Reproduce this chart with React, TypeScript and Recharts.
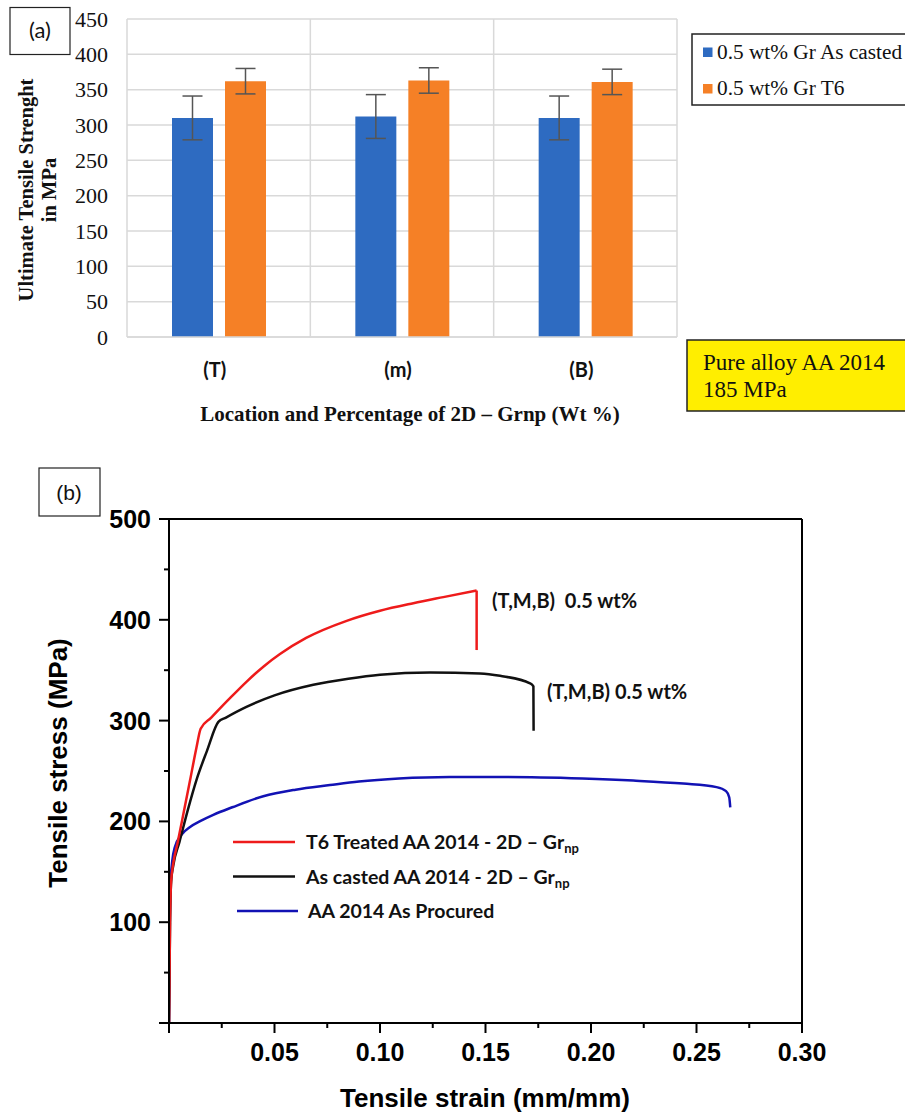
import React from 'react';
import {
  BarChart, Bar, ErrorBar, XAxis, YAxis, CartesianGrid,
  LineChart, Line, ReferenceLine,
} from 'recharts';

// ---------- (a) bar chart data ----------
const categories = ['(T)', '(m)', '(B)'];
const asCastedValues = [310, 312, 310];
const asCastedErrors = [31, 31, 31];
const t6Values = [362, 363, 361];
const t6Errors = [18, 18, 18];
const barYTicks = [0, 50, 100, 150, 200, 250, 300, 350, 400, 450];
const barSeriesNames = ['0.5 wt% Gr As casted', '0.5 wt% Gr T6'];
const barColors = ['#2E6BC1', '#F58026'];

// ---------- (b) stress-strain data ----------
const t6Strain = [0, 0.0005, 0.001, 0.002, 0.004, 0.0066, 0.01, 0.013, 0.015, 0.02, 0.029, 0.0367, 0.045, 0.0526, 0.065, 0.0842, 0.1, 0.1158, 0.13, 0.1458];
const t6Stress = [0, 100, 140, 158, 178, 205, 241, 273, 292, 303, 322.5, 338.5, 354, 366, 382, 399, 409, 416.5, 422.5, 429];
const t6FractureStrain = [0.1458, 0.1458];
const t6FractureStress = [429, 370];
const castStrain = [0, 0.0005, 0.001, 0.002, 0.005, 0.009, 0.013, 0.018, 0.0234, 0.027, 0.0367, 0.05, 0.0684, 0.085, 0.1, 0.1237, 0.1474, 0.1569, 0.1711, 0.1727, 0.1728];
const castStress = [0, 100, 140, 156, 180, 212, 241, 270, 298.7, 303, 313.6, 325, 335.5, 341.5, 345.5, 347.8, 346.8, 344.4, 337, 334, 290];
const procStrain = [0, 0.0003, 0.0005, 0.0015, 0.0028, 0.006, 0.01, 0.015, 0.021, 0.03, 0.0447, 0.06, 0.0763, 0.09, 0.109, 0.133, 0.16, 0.196, 0.22, 0.2437, 0.2595, 0.264, 0.2655, 0.266];
const procStress = [0, 80, 131.6, 160, 174.6, 187, 194.5, 200.5, 206.5, 214, 225, 231.5, 236, 239.5, 242.5, 244, 244, 242.5, 240.5, 237.5, 234, 230, 224, 214];
const lineXTicks = [0, 0.025, 0.05, 0.075, 0.1, 0.125, 0.15, 0.175, 0.2, 0.225, 0.25, 0.275, 0.3];
const lineYTicks = [0, 50, 100, 150, 200, 250, 300, 350, 400, 450, 500];
const lineSeriesNames = ['T6 Treated AA 2014 - 2D \u2013 Gr', 'As casted AA 2014 - 2D \u2013 Gr', 'AA 2014 As Procured'];
const lineSubscripts = ['np', 'np', ''];
const lineColors = ['#EE1B1B', '#111111', '#1212B4'];
const annotationText = '(T,M,B)  0.5 wt%';

const barData = categories.map((c, i) => ({
  cat: c,
  asCasted: asCastedValues[i],
  asCastedErr: asCastedErrors[i],
  t6: t6Values[i],
  t6Err: t6Errors[i],
}));

const toPoints = (xs: number[], ys: number[]) => xs.map((x, i) => ({ x, y: ys[i] }));
const t6Curve = toPoints(t6Strain, t6Stress);
const t6Fracture = toPoints(t6FractureStrain, t6FractureStress);
const castCurve = toPoints(castStrain, castStress);
const procCurve = toPoints(procStrain, procStress);

const SERIF = '"Liberation Serif", "Times New Roman", serif';
const SANS = '"Liberation Sans", Arial, sans-serif';
const CAL = 'Lato, "Open Sans", sans-serif';

const CatTick = (props: any) => {
  const { x, y, payload } = props;
  return (
    <text x={x - 4} y={y + 40} textAnchor="middle" fontFamily={CAL} fontWeight={700} fontSize={20} fill="#111">
      {payload.value}
    </text>
  );
};

const XTickB = (props: any) => {
  const { x, y, payload } = props;
  const v = payload.value as number;
  const major = Math.abs(v * 20 - Math.round(v * 20)) < 1e-6;
  return (
    <g>
      <line x1={x} y1={y} x2={x} y2={y + (major ? 10 : 5)} stroke="#000" strokeWidth={2} />
      {major && v > 0 && (
        <text x={x} y={y + 38} textAnchor="middle" fontFamily={SANS} fontWeight={700} fontSize={25} fill="#000">
          {v.toFixed(2)}
        </text>
      )}
    </g>
  );
};

const YTickB = (props: any) => {
  const { x, y, payload } = props;
  const v = payload.value as number;
  const major = v % 100 === 0;
  return (
    <g>
      <line x1={x - (major ? 10 : 5)} y1={y} x2={x} y2={y} stroke="#000" strokeWidth={2} />
      {major && v > 0 && (
        <text x={x - 18} y={y + 9} textAnchor="end" fontFamily={SANS} fontWeight={700} fontSize={25} fill="#000">
          {v}
        </text>
      )}
    </g>
  );
};

const verticalBounds = ({ offset }: any) =>
  categories.map((_, i) => offset.left + (i * offset.width) / categories.length).concat(offset.left + offset.width);

export default function App() {
  return (
    <div style={{ position: 'absolute', left: 0, top: 0, width: 905, height: 1112, overflow: 'hidden', background: '#fff' }}>
      <div style={{ position: 'absolute', left: 0, top: 0 }}>
        <BarChart width={905} height={440} data={barData} margin={{ top: 19, right: 228, left: 67, bottom: 73 }} barSize={41} barGap={12}>
          <CartesianGrid stroke="#d9d9d9" strokeWidth={1.5} verticalCoordinatesGenerator={verticalBounds} />
          <XAxis dataKey="cat" height={30} interval={0} tickLine={false} tickSize={0} tickMargin={0} axisLine={{ stroke: '#d9d9d9', strokeWidth: 1.5 }} tick={<CatTick />} />
          <YAxis width={60} domain={[0, 450]} ticks={barYTicks} interval={0} tickLine={false} axisLine={false} tickSize={0} tickMargin={19}
            tick={{ fontFamily: SERIF, fontSize: 22, fill: '#111' }} />
          <Bar dataKey="asCasted" fill={barColors[0]} isAnimationActive={false}>
            <ErrorBar dataKey="asCastedErr" width={10} stroke="#555" strokeWidth={1.5} />
          </Bar>
          <Bar dataKey="t6" fill={barColors[1]} isAnimationActive={false}>
            <ErrorBar dataKey="t6Err" width={10} stroke="#555" strokeWidth={1.5} />
          </Bar>
        </BarChart>
      </div>
      <div style={{ position: 'absolute', left: 0, top: 440 }}>
        <LineChart width={905} height={672} margin={{ top: 79, right: 103, left: 69, bottom: 39 }}>
          <XAxis type="number" dataKey="x" domain={[0, 0.3]} ticks={lineXTicks} interval={0} height={50} tickLine={false} tickSize={0} tickMargin={0}
            axisLine={{ stroke: '#000', strokeWidth: 2 }} tick={<XTickB />} allowDataOverflow />
          <YAxis type="number" domain={[0, 500]} ticks={lineYTicks} interval={0} width={100} tickLine={false} tickSize={0} tickMargin={0}
            axisLine={{ stroke: '#000', strokeWidth: 2 }} tick={<YTickB />} allowDataOverflow />
          <ReferenceLine y={500} stroke="#000" strokeWidth={2} />
          <ReferenceLine x={0.3} stroke="#000" strokeWidth={2} />
          <Line data={procCurve} dataKey="y" type="monotone" stroke={lineColors[2]} strokeWidth={2.5} dot={false} isAnimationActive={false} />
          <Line data={castCurve} dataKey="y" type="monotone" stroke={lineColors[1]} strokeWidth={2.5} dot={false} isAnimationActive={false} />
          <Line data={t6Curve} dataKey="y" type="monotone" stroke={lineColors[0]} strokeWidth={2.5} dot={false} isAnimationActive={false} />
          <Line data={t6Fracture} dataKey="y" type="linear" stroke={lineColors[0]} strokeWidth={2.5} dot={false} isAnimationActive={false} />
        </LineChart>
      </div>
      <svg style={{ position: 'absolute', left: 0, top: 0, pointerEvents: 'none' }} width={905} height={1112}>
        {/* (a) panel tag */}
        <rect x={10} y={7.5} width={60} height={47} fill="#fff" stroke="#222" strokeWidth={1.2} />
        <text x={40} y={38} textAnchor="middle" fontFamily={CAL} fontSize={22} fill="#111">(a)</text>
        {/* (a) titles */}
        <g fontFamily={SERIF} fontWeight={700} fill="#111">
          <text transform="translate(33,190) rotate(-90)" textAnchor="middle" fontSize={20.5}>Ultimate Tensile Strenght</text>
          <text transform="translate(56,190) rotate(-90)" textAnchor="middle" fontSize={20.5}>in MPa</text>
          <text x={410} y={421} textAnchor="middle" fontSize={21}>Location and Percentage of 2D – Grnp (Wt %)</text>
        </g>
        {/* (a) legend */}
        <rect x={692} y={34} width={300} height={71} fill="#fff" stroke="#222" strokeWidth={1.5} />
        {barSeriesNames.map((n, i) => (
          <g key={n}>
            <rect x={703} y={47.5 + i * 36.5} width={9.5} height={9.5} fill={barColors[i]} />
            <text x={717} y={59 + i * 36} fontFamily={SERIF} fontSize={21.3} fill="#111">{n}</text>
          </g>
        ))}
        {/* yellow note */}
        <rect x={687} y={340} width={300} height={71} fill="#FFEE00" stroke="#222" strokeWidth={1.5} />
        <text x={703} y={370} fontFamily={SERIF} fontSize={23} fill="#111">Pure alloy AA 2014</text>
        <text x={703} y={397} fontFamily={SERIF} fontSize={23} fill="#111">185 MPa</text>

        {/* (b) panel tag */}
        <rect x={39} y={468} width={61} height={48} fill="#fff" stroke="#222" strokeWidth={1.2} />
        <text x={69} y={500} textAnchor="middle" fontFamily={SANS} fontSize={21} fill="#111">(b)</text>
        {/* (b) axis titles */}
        <text transform="translate(67,763) rotate(-90)" textAnchor="middle" fontFamily={SANS} fontWeight={700} fontSize={26} fill="#000">Tensile stress (MPa)</text>
        <text x={485} y={1107} textAnchor="middle" fontFamily={SANS} fontWeight={700} fontSize={26} fill="#000">Tensile strain (mm/mm)</text>
        {/* (b) annotations */}
        <text x={492} y={608} fontFamily={CAL} fontWeight={700} fontSize={20} fill="#111" style={{ whiteSpace: 'pre' }}>{annotationText}</text>
        <text x={547} y={699} fontFamily={CAL} fontWeight={700} fontSize={20} fill="#111">(T,M,B) 0.5 wt%</text>
        {/* (b) legend */}
        {lineSeriesNames.map((n, i) => (
          <g key={n}>
            <line x1={i === 2 ? 237 : 233} x2={i === 2 ? 298 : 295} y1={842 + i * 34.5} y2={842 + i * 34.5} stroke={lineColors[i]} strokeWidth={2.5} />
            <text x={i === 2 ? 308 : 306} y={849 + i * 34.5} fontFamily={CAL} fontWeight={700} fontSize={19.5} fill="#111">
              {n}
              {lineSubscripts[i] && <tspan dy={4} fontSize={13}>{lineSubscripts[i]}</tspan>}
            </text>
          </g>
        ))}
      </svg>
    </div>
  );
}
